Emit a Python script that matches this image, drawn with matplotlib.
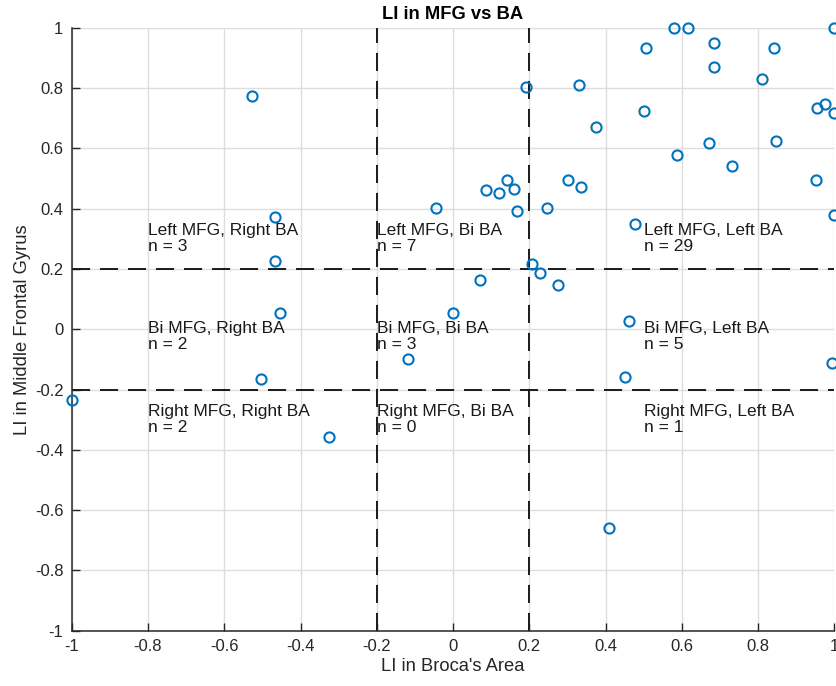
import numpy as np
import matplotlib
matplotlib.use("Agg")
import matplotlib.pyplot as plt

plt.rcParams["font.family"] = ["Liberation Sans", "DejaVu Sans"]

# LI values
li_ba = [
    -0.528, -0.468, -0.468, -0.454, -1.0, -0.504, -0.325, -0.118,
    0.580, 0.6155, 1.0, 0.505, 0.6845, 0.842, 0.685, 0.810,
    0.1915, 0.330, 0.9555, 0.9756, 1.0, 0.500, 0.376, 0.671,
    0.847, 0.5875, 0.731, 0.952, 1.0, 0.141, 0.0857, 0.1215,
    0.160, 0.168, 0.3025, 0.335, 0.2465, -0.044, 0.477, 0.2064,
    0.229, 0.2746, 0.071, 0.0, 0.4625, 0.450, 0.993, 0.408,
]
li_mfg = [
    0.774, 0.372, 0.227, 0.053, -0.235, -0.164, -0.357, -0.100,
    1.0, 1.0, 1.0, 0.933, 0.950, 0.933, 0.869, 0.829,
    0.803, 0.810, 0.735, 0.747, 0.718, 0.723, 0.671, 0.618,
    0.623, 0.577, 0.542, 0.495, 0.379, 0.495, 0.461, 0.451,
    0.466, 0.391, 0.495, 0.472, 0.402, 0.402, 0.350, 0.216,
    0.187, 0.147, 0.163, 0.053, 0.028, -0.158, -0.111, -0.659,
]

thresholds = [-0.2, 0.2]

region_x = [-0.8, -0.2, 0.5]
region_y = [0.3, -0.025, -0.3]
mfg_names = ["Left MFG", "Bi MFG", "Right MFG"]
ba_names = ["Right BA", "Bi BA", "Left BA"]
counts = [
    [3, 7, 29],
    [2, 3, 5],
    [2, 0, 1],
]

ticks = [-1, -0.8, -0.6, -0.4, -0.2, 0, 0.2, 0.4, 0.6, 0.8, 1]
tick_labels = ["-1", "-0.8", "-0.6", "-0.4", "-0.2", "0", "0.2", "0.4", "0.6", "0.8", "1"]

fig = plt.figure(figsize=(8.37, 6.86), dpi=100)
ax = fig.add_axes([0.0857, 0.0806, 0.9111, 0.879])

ax.set_xlim(-1, 1)
ax.set_ylim(-1, 1)
ax.set_xticks(ticks)
ax.set_yticks(ticks)
ax.set_xticklabels(tick_labels)
ax.set_yticklabels(tick_labels)
ax.grid(True, color="#dedede", linewidth=1.0)
ax.set_axisbelow(True)

for t in thresholds:
    ax.axvline(t, color="#1a1a1a", linewidth=1.4, linestyle=(0, (9.3, 5.1)), zorder=2)
    ax.axhline(t, color="#1a1a1a", linewidth=1.4, linestyle=(0, (9.3, 5.1)), zorder=2)

ax.plot(li_ba, li_mfg, "o", ms=7.3, mfc="none", mec="#0072BD", mew=1.5,
        clip_on=False, zorder=3)

for i, yy in enumerate(region_y):
    for j, xx in enumerate(region_x):
        ax.text(xx, yy, f"{mfg_names[i]}, {ba_names[j]}\nn = {counts[i][j]}",
                fontsize=12.5, color="#1a1a1a", ha="left", va="center",
                linespacing=1.05, zorder=4)

for side in ["top", "right"]:
    ax.spines[side].set_visible(False)
for side in ["left", "bottom"]:
    ax.spines[side].set_color("#262626")
    ax.spines[side].set_linewidth(1.1)

ax.tick_params(direction="in", length=6, width=1.0, colors="#262626",
               labelsize=12, pad=6)
ax.set_xlabel("LI in Broca's Area", fontsize=13.2, color="#262626", labelpad=3)
ax.set_ylabel("LI in Middle Frontal Gyrus", fontsize=13.2, color="#262626", labelpad=3)
ax.set_title("LI in MFG vs BA", fontsize=13.2, fontweight="bold", color="black", pad=6)

fig.savefig("out.png", dpi=100)
